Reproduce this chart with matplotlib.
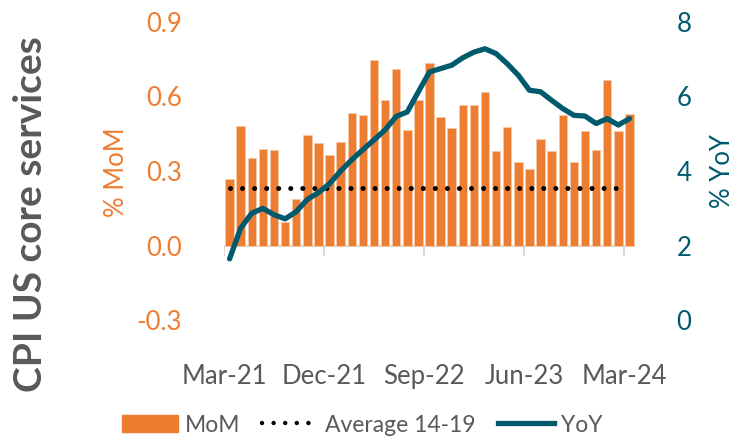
import matplotlib
matplotlib.use("Agg")
import matplotlib.pyplot as plt
import numpy as np
import pandas as pd
from matplotlib.patches import Patch
from matplotlib.lines import Line2D

plt.rcParams['font.family'] = ['Lato', 'DejaVu Sans']

# monthly data, Mar-21 .. Mar-24
months = pd.date_range('2021-03-01', periods=37, freq='MS')
mom = [0.267, 0.481, 0.352, 0.390, 0.385, 0.094, 0.189, 0.444, 0.412, 0.366,
       0.418, 0.532, 0.526, 0.745, 0.584, 0.709, 0.464, 0.586, 0.732, 0.518,
       0.474, 0.563, 0.566, 0.619, 0.382, 0.478, 0.335, 0.309, 0.428, 0.379,
       0.525, 0.337, 0.460, 0.385, 0.667, 0.459, 0.528]
yoy = [1.65, 2.47, 2.87, 3.00, 2.83, 2.72, 2.91, 3.24, 3.42, 3.66,
       4.00, 4.30, 4.57, 4.83, 5.10, 5.46, 5.58, 6.12, 6.65, 6.74,
       6.83, 7.03, 7.18, 7.27, 7.14, 6.87, 6.56, 6.16, 6.12, 5.89,
       5.67, 5.49, 5.47, 5.27, 5.40, 5.23, 5.40]
avg_14_19 = 0.232

orange = '#ED7D31'
teal = '#005A6E'
grey = '#595959'
fs = 18.5

fig = plt.figure(figsize=(7.35, 4.42), dpi=100)
ax = fig.add_axes([224/735, 1 - 320.5/442, 411/735, 299/442])
x = np.arange(len(months))

ax.bar(x, mom, width=0.76, color=orange, edgecolor='#F6C9A8', linewidth=0.6, zorder=2)
ax.plot([x[0], x[-2]], [avg_14_19, avg_14_19], color='black', lw=3.6,
        linestyle=(0, (0.01, 2.4)), dash_capstyle='round', zorder=3)

ax.set_xlim(-0.5, len(months) - 0.5)
ax.set_ylim(-0.3, 0.9)
ax.set_yticks([-0.3, 0.0, 0.3, 0.6, 0.9])
ax.set_yticklabels([f'{v:.1f}' for v in [-0.3, 0.0, 0.3, 0.6, 0.9]])
ax.tick_params(axis='y', colors=orange, labelsize=fs, length=0, pad=30)

tick_idx = np.arange(0, len(months), 9)
ax.set_xticks(tick_idx - 0.5)
ax.set_xticklabels([months[i].strftime('%b-%y') for i in tick_idx])
ax.tick_params(axis='x', colors=grey, labelsize=fs, length=0, pad=31)
ax.axhline(0, color='#D9D9D9', lw=1.5, zorder=1)
ax.vlines(tick_idx - 0.5, -0.04, 0, color='#D9D9D9', lw=1.5, zorder=1)
for s in ax.spines.values():
    s.set_visible(False)

ax2 = ax.twinx()
ax2.plot(x, yoy, color=teal, lw=3.8, solid_capstyle='round', zorder=4)
ax2.set_ylim(0, 8)
ax2.set_yticks([0, 2, 4, 6, 8])
ax2.tick_params(axis='y', colors=teal, labelsize=fs, length=0, pad=30)
for s in ax2.spines.values():
    s.set_visible(False)

# axis titles
fig.text(117/735, 1 - 172/442, '% MoM', rotation=90, color=orange, fontsize=fs,
         ha='center', va='center')
fig.text(722/735, 1 - 171/442, '% YoY', rotation=90, color=teal, fontsize=fs,
         ha='center', va='center')
fig.text(31/735, 1 - 214/442, 'CPI US core services', rotation=90, color=grey,
         fontsize=28, fontweight='bold', ha='center', va='center')

handles = [Patch(color=orange),
           Line2D([], [], color='black', lw=3.2, linestyle=(0, (0.01, 2.6)), dash_capstyle='round'),
           Line2D([], [], color=teal, lw=3.8)]
fig.legend(handles, ['MoM', 'Average 14-19', 'YoY'], loc='center',
           bbox_to_anchor=(362/735, 1 - 425/442), ncol=3, frameon=False,
           fontsize=16.5, labelcolor=grey, handlelength=2.45, handletextpad=0.3,
           columnspacing=0.95, handleheight=0.8)

fig.savefig('out.png', dpi=100)
